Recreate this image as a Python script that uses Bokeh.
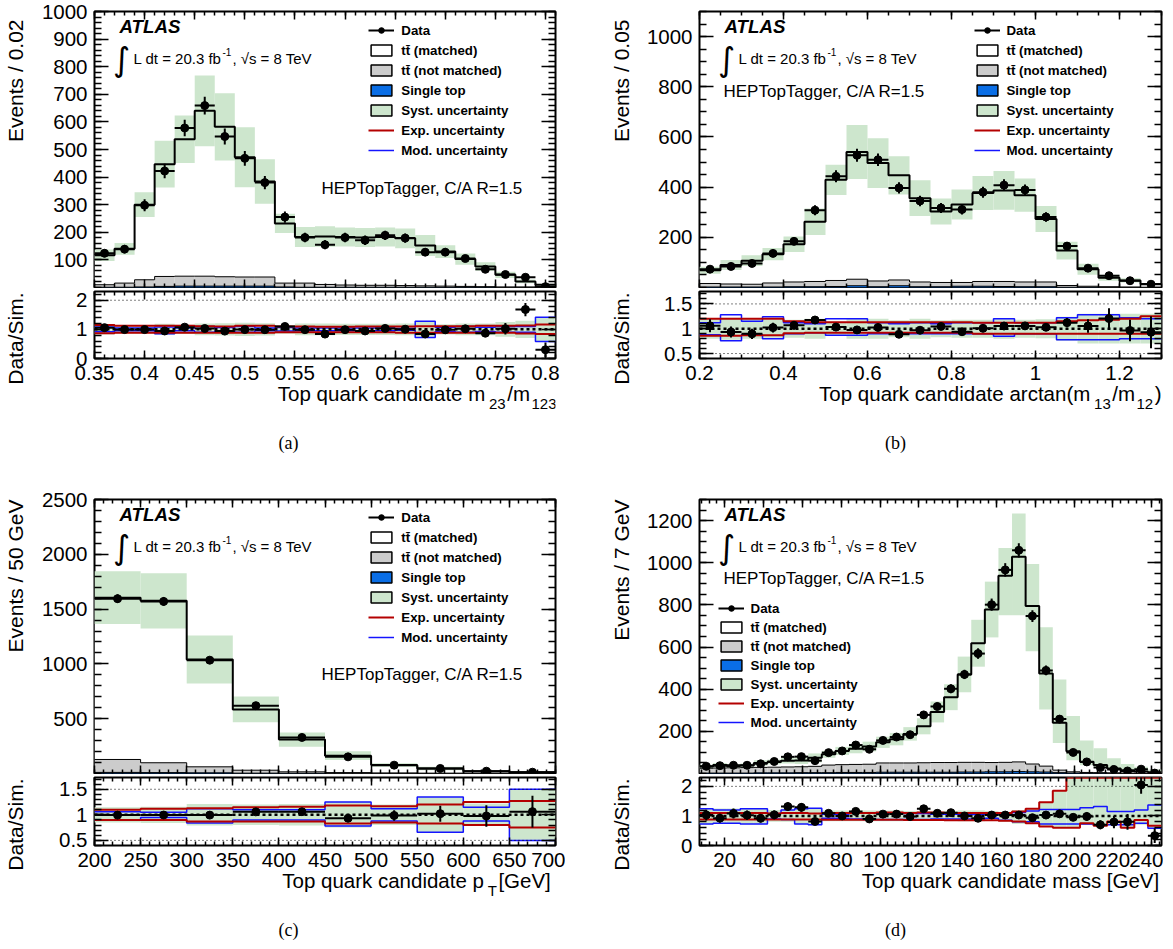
import numpy as np
from bokeh.plotting import figure
from bokeh.models import (Range1d, LinearAxis, FixedTicker, CustomJSTickFormatter,
                          CustomLabelingPolicy, Label, Legend, LegendItem, Span, Grid)
from bokeh.layouts import column, row
from bokeh.embed import file_html
from bokeh.resources import INLINE

# ======================= DATA =======================
# (a) Top quark candidate m23/m123, bins of 0.02 from 0.35
a_bin_start, a_bin_width = 0.35, 0.02
a_data = [124, 139, 298, 422, 578, 659, 547, 468, 380, 255, 181, 155, 181, 171, 189, 179, 128, 128, 105, 66, 47, 37, 3]
a_data_err = [14, 15, 22, 26, 30, 32, 29, 27, 24, 20, 17, 16, 17, 17, 17, 17, 14, 14, 13, 10, 9, 5, 2.5]
a_mc_total = [117, 140, 300, 447, 537, 640, 582, 472, 384, 232, 183, 185, 183, 181, 183, 178, 152, 130, 103, 76, 46, 22, 10]
a_ttbar_notmatched = [9, 15, 26, 36, 36, 36, 34, 33, 33, 14, 15, 10, 8, 7, 7, 6, 5, 4.5, 3.5, 2.5, 1.7, 1.7, 0.8]
a_single_top = [1, 1, 2, 4, 5, 5, 5, 5, 5, 2, 1, 1, 1, 1, 1, 1, 1, 0.5, 0.5, 0.5, 0.3, 0.3, 0.2]
a_syst = [0.18, 0.15, 0.15, 0.19, 0.16, 0.2, 0.21, 0.23, 0.21, 0.15, 0.2, 0.2, 0.19, 0.19, 0.19, 0.2, 0.25, 0.18, 0.2, 0.2, 0.25, 0.3, 0.4]
a_exp_up = [0.15, 0.12, 0.12, 0.12, 0.12, 0.11, 0.1, 0.12, 0.12, 0.1, 0.1, 0.09, 0.09, 0.1, 0.1, 0.1, 0.11, 0.11, 0.11, 0.12, 0.12, 0.13, 0.17]
a_exp_dn = [0.13, 0.12, 0.12, 0.12, 0.12, 0.12, 0.12, 0.12, 0.12, 0.1, 0.1, 0.1, 0.1, 0.1, 0.1, 0.12, 0.12, 0.12, 0.12, 0.12, 0.12, 0.14, 0.16]
a_mod_up = [0.08, 0.05, 0.05, 0.08, 0.05, 0.1, 0.06, 0.1, 0.05, 0.06, 0.05, 0.05, 0.05, 0.05, 0.05, 0.03, 0.28, 0.07, 0.1, 0.07, 0.1, 0.1, 0.42]
a_mod_dn = [0.08, 0.05, 0.05, 0.15, 0.05, 0.1, 0.06, 0.1, 0.05, 0.06, 0.05, 0.05, 0.05, 0.05, 0.05, 0.03, 0.28, 0.07, 0.1, 0.07, 0.1, 0.1, 0.42]

# (b) arctan(m13/m12), bins of 0.05 from 0.2
b_bin_start, b_bin_width = 0.2, 0.05
b_data = [73, 84, 96, 136, 184, 308, 443, 527, 509, 397, 345, 317, 311, 380, 408, 389, 281, 165, 77, 47, 27, 13]
b_data_err = [9, 10, 11, 13, 15, 20, 24, 26, 25, 22, 21, 20, 20, 22, 23, 22, 19, 14, 10, 8, 6, 4.5]
b_mc_total = [69, 90, 107, 133, 172, 262, 429, 540, 496, 447, 356, 303, 331, 377, 387, 368, 273, 147, 73, 39, 28, 14]
b_ttbar_notmatched = [14, 12, 11, 16, 19, 21, 24, 26, 23, 23, 19, 17, 15, 19, 20, 19, 19, 7, 4.5, 2.7, 1.8, 0.9]
b_single_top = [2, 2, 2, 2, 3, 3, 4, 7, 3, 7, 3, 3, 5, 5, 4, 3, 3, 1, 0.5, 0.3, 0.2, 0.1]
b_syst = [0.2, 0.22, 0.2, 0.18, 0.18, 0.2, 0.14, 0.2, 0.2, 0.17, 0.2, 0.17, 0.18, 0.18, 0.2, 0.18, 0.19, 0.24, 0.3, 0.3, 0.3, 0.3]
b_exp_up = [0.2, 0.2, 0.2, 0.2, 0.15, 0.13, 0.13, 0.13, 0.13, 0.13, 0.13, 0.13, 0.13, 0.12, 0.12, 0.12, 0.12, 0.15, 0.17, 0.18, 0.2, 0.25]
b_exp_dn = [0.14, 0.14, 0.13, 0.13, 0.09, 0.08, 0.08, 0.08, 0.08, 0.08, 0.08, 0.08, 0.08, 0.1, 0.1, 0.1, 0.1, 0.1, 0.1, 0.1, 0.1, 0.1]
b_mod_up = [0.12, 0.28, 0.15, 0.24, 0.12, 0.1, 0.2, 0.2, 0.12, 0.1, 0.12, 0.1, 0.12, 0.12, 0.2, 0.12, 0.12, 0.22, 0.28, 0.28, 0.22, 0.2]
b_mod_dn = [0.12, 0.24, 0.12, 0.2, 0.1, 0.08, 0.13, 0.13, 0.1, 0.1, 0.1, 0.1, 0.1, 0.1, 0.15, 0.1, 0.1, 0.22, 0.22, 0.22, 0.2, 0.2]

# (c) pT, bins of 50 GeV from 200
c_bin_start, c_bin_width = 200, 50
c_data = [1595, 1570, 1034, 619, 329, 152, 76, 46, 21, 12]
c_data_err = [40, 40, 32, 25, 18, 12, 8, 7, 4.5, 3.5]
c_mc_total = [1604, 1576, 1040, 585, 310, 163, 77, 45, 21.5, 11.3]
c_ttbar_notmatched = [118, 90, 55, 27, 13, 7, 4.5, 2.7, 1.8, 0.9]
c_single_top = [10, 8, 6, 3, 2, 1, 0.5, 0.3, 0.2, 0.1]
c_syst = [0.15, 0.16, 0.21, 0.2, 0.21, 0.25, 0.2, 0.35, 0.22, 0.5]
c_exp_up = [0.1, 0.12, 0.13, 0.15, 0.16, 0.18, 0.17, 0.2, 0.25, 0.27]
c_exp_dn = [0.1, 0.1, 0.13, 0.13, 0.13, 0.17, 0.15, 0.17, 0.2, 0.25]
c_mod_up = [0.06, 0.05, 0.12, 0.1, 0.1, 0.25, 0.12, 0.35, 0.15, 0.5]
c_mod_dn = [0.1, 0.05, 0.16, 0.1, 0.1, 0.22, 0.12, 0.34, 0.12, 0.5]

# (d) mass, bins of 7 GeV from 7
d_bin_start, d_bin_width = 7, 7
d_data = [34, 37, 39, 39, 46, 57, 79, 80, 61, 99, 107, 135, 115, 157, 173, 184, 278, 318, 402, 470, 569, 801, 966, 1059, 747, 489, 258, 100, 55, 28, 19, 12, 20.5, 2]
d_data_err = [6, 6, 6, 6, 7, 8, 9, 9, 8, 10, 11, 12, 11, 13, 14, 14, 17, 18, 21, 22, 25, 29, 32, 34, 28, 23, 16, 10, 8, 6, 5, 4, 3, 1.5]
d_mc_total = [33, 40, 36, 38, 50, 55, 60, 62, 75, 91, 107, 117, 128, 148, 163, 188, 224, 292, 362, 470, 618, 778, 938, 1028, 795, 475, 241, 105, 56, 40, 24, 15, 10, 6]
d_ttbar_notmatched = [23, 24, 25, 26, 26, 27, 28, 28, 30, 36, 37, 38, 39, 44, 44, 44, 45, 46, 46, 46, 46, 44, 45, 46, 37, 28, 12, 6, 4, 3, 2.5, 1.5, 0.7, 0.8]
d_single_top = [2, 2, 2, 2, 3, 3, 3, 4, 4, 4, 5, 5, 5, 6, 6, 6, 6, 6, 6, 7, 7, 8, 8, 9, 8, 7, 4, 2, 1, 1, 0.5, 0.5, 0.3, 0.2]
d_syst_up = [0.25, 0.25, 0.25, 0.26, 0.26, 0.2, 0.24, 0.25, 0.27, 0.18, 0.18, 0.18, 0.18, 0.18, 0.18, 0.17, 0.17, 0.17, 0.17, 0.18, 0.18, 0.17, 0.14, 0.2, 0.25, 0.46, 0.85, 1.6, 1.8, 2.0, 2.0, 2.0, 2.2, 2.2]
d_syst_dn = [0.28, 0.25, 0.25, 0.27, 0.27, 0.2, 0.2, 0.27, 0.3, 0.18, 0.18, 0.18, 0.18, 0.18, 0.18, 0.17, 0.17, 0.17, 0.17, 0.18, 0.18, 0.17, 0.2, 0.27, 0.27, 0.36, 0.4, 0.4, 0.3, 0.33, 0.3, 0.4, 0.3, 0.45]
d_exp_up = [0.1, 0.1, 0.1, 0.1, 0.1, 0.08, 0.1, 0.1, 0.08, 0.1, 0.1, 0.1, 0.1, 0.12, 0.12, 0.1, 0.12, 0.12, 0.1, 0.1, 0.1, 0.1, 0.1, 0.15, 0.24, 0.46, 0.85, 1.6, 1.8, 2.0, 2.0, 2.0, 2.2, 2.2]
d_exp_dn = [0.12, 0.12, 0.12, 0.12, 0.12, 0.12, 0.12, 0.12, 0.12, 0.13, 0.13, 0.13, 0.13, 0.13, 0.13, 0.14, 0.14, 0.14, 0.15, 0.15, 0.15, 0.15, 0.16, 0.19, 0.25, 0.36, 0.4, 0.4, 0.25, 0.33, 0.19, 0.4, 0.14, 0.33]
d_mod_up = [0.24, 0.2, 0.2, 0.24, 0.24, 0.08, 0.2, 0.24, 0.26, 0.06, 0.06, 0.1, 0.1, 0.1, 0.1, 0.08, 0.08, 0.06, 0.06, 0.06, 0.05, 0.06, 0.08, 0.12, 0.17, 0.22, 0.22, 0.22, 0.28, 0.32, 0.15, 0.15, 0.2, 0.37]
d_mod_dn = [0.27, 0.25, 0.25, 0.27, 0.27, 0.1, 0.12, 0.27, 0.3, 0.08, 0.08, 0.1, 0.12, 0.12, 0.12, 0.12, 0.12, 0.1, 0.1, 0.1, 0.1, 0.08, 0.15, 0.2, 0.2, 0.27, 0.27, 0.27, 0.27, 0.3, 0.3, 0.3, 0.25, 0.42]

legend_labels = ["Data", "t\u0074\u0304 (matched)", "t\u0074\u0304 (not matched)", "Single top",
                 "Syst. uncertainty", "Exp. uncertainty", "Mod. uncertainty"]

# ======================= STYLE =======================
FONT = "Liberation Sans"
GREEN = "#cde6cd"
GRAY = "#cccccc"
STBLUE = "#0a6ee6"
RED = "#b40000"
MODBLUE = "#1414ff"
ALPHA_FIX = 8.0   # measured offset of alphabetic-baseline labels
MID_FIX = 3.0     # measured offset of middle-baseline labels
OVERLAP = 22      # text strip slides up under the ratio pad's tick labels

CW = {' ': 278, '(': 333, ')': 333, ',': 278, '-': 333, '.': 278, '/': 278, '=': 584, '[': 278, ']': 278,
      'A': 667, 'C': 722, 'E': 667, 'G': 778, 'H': 722, 'L': 556, 'P': 667, 'R': 722, 'S': 667,
      'T': 611, 'V': 667, 'a': 556, 'b': 556, 'c': 500, 'd': 556, 'e': 556, 'f': 278, 'g': 556,
      'h': 556, 'i': 222, 'k': 500, 'l': 222, 'm': 833, 'n': 556, 'o': 556, 'p': 556, 'q': 556,
      'r': 333, 's': 500, 't': 278, 'u': 556, 'v': 500, 'y': 500, '\u221a': 549}
for _c in "0123456789":
    CW[_c] = 556

NO_LABELS = CustomLabelingPolicy(code="""
try { for (let i = 0; i < indices.size; i++) { indices.unset(i) } } catch (e) {}
return indices;
""")


def tw(s, size):
    return sum(CW.get(c, 556) for c in s) * size / 1000.0


def lab(fig, x, y, text, size, align="left", baseline="alphabetic", style="normal",
        font=FONT, angle=0.0, fix=True):
    if fix:
        if angle == 0.0:
            y += ALPHA_FIX if baseline == "alphabetic" else MID_FIX
        else:
            x -= MID_FIX
    fig.add_layout(Label(x=x, y=y, x_units="screen", y_units="screen", text=text,
                         text_font=font, text_font_size=f"{size}px", text_font_style=style,
                         text_align=align, text_baseline=baseline, text_color="black",
                         angle=angle))


def pieces(fig, parts, y, x_left=None, x_right=None, gap=1.5):
    widths = [tw(t, s) for t, s, _ in parts]
    total = sum(widths) + gap * (len(parts) - 1)
    x = x_left if x_left is not None else x_right - total
    for (t, s, dy), w in zip(parts, widths):
        lab(fig, x, y + dy, t, s)
        x += w + gap


def add_axis(fig, side, majors, minors, tin, tmin, show):
    ax = LinearAxis(ticker=FixedTicker(ticks=[float(v) for v in majors],
                                       minor_ticks=[float(v) for v in minors]))
    ax.major_tick_in = tin
    ax.major_tick_out = 0
    ax.minor_tick_in = tmin
    ax.minor_tick_out = 0
    ax.major_tick_line_width = 1.5
    ax.minor_tick_line_width = 1.5
    ax.major_tick_line_color = "black"
    ax.minor_tick_line_color = "black"
    ax.axis_line_color = None
    if show:
        ax.formatter = CustomJSTickFormatter(code="return String(Math.round(tick*1e6)/1e6);")
        ax.major_label_text_font = FONT
        ax.major_label_text_font_size = "20.5px"
        ax.major_label_text_color = "black"
        ax.major_label_standoff = 7
    else:
        ax.major_label_text_font_size = "0px"
        ax.major_label_standoff = 0
        ax.major_label_policy = NO_LABELS
    fig.add_layout(ax, side)


def hide_grids(f):
    for r in list(f.center):
        if isinstance(r, Grid):
            r.visible = False


def blank_fig(w, h, bl=0, br=0, margin=None):
    kw = {} if margin is None else dict(margin=margin)
    f = figure(width=w, height=h, x_range=Range1d(0, 1), y_range=Range1d(0, 1),
               toolbar_location=None, output_backend="svg",
               x_axis_location=None, y_axis_location=None,
               min_border_left=bl, min_border_right=br, min_border_top=0, min_border_bottom=0,
               outline_line_color=None, background_fill_alpha=0, border_fill_alpha=0, **kw)
    hide_grids(f)
    return f


def step_y(vals):
    return np.append(vals, vals[-1])


def build(P, G):
    n = len(P["data"])
    edges = np.round(P["x0"] + P["bw"] * np.arange(n + 1), 6)
    lo, hi = edges[:-1], edges[1:]
    ctr = 0.5 * (lo + hi)
    data = np.asarray(P["data"], float)
    err = np.asarray(P["err"], float)
    mc = np.asarray(P["mc"], float)
    single = np.asarray(P["single"], float)
    gtop = single + np.asarray(P["notmatched"], float)
    sup = np.asarray(P["syst_up"], float)
    sdn = np.asarray(P["syst_dn"], float)
    rlo, rhi = P["rlim"]

    xr = Range1d(*P["xlim"])
    common = dict(toolbar_location=None, output_backend="svg", x_range=xr,
                  x_axis_location=None, y_axis_location=None,
                  background_fill_color="white", border_fill_color="white",
                  outline_line_color="black", outline_line_width=2,
                  min_border_left=G["bl"], min_border_right=G["br"])
    W = G["bl"] + 462 + G["br"]

    # ---------- main pad ----------
    Hm, mt = G["Hm"], G["mt"]
    main = figure(width=W, height=mt + Hm + 1, y_range=Range1d(0, P["ymax"]),
                  min_border_top=mt, min_border_bottom=1, **common)
    add_axis(main, "left", P["ymaj"], P["ymin"], 14, 7, True)
    add_axis(main, "right", P["ymaj"], P["ymin"], 14, 7, False)
    add_axis(main, "below", P["xmaj"], P["xmin"], 8, 4, False)
    add_axis(main, "above", P["xmaj"], P["xmin"], 8, 4, False)

    main.quad(left=lo, right=hi, bottom=gtop, top=mc, fill_color="white", line_color=None)
    main.quad(left=lo, right=hi, bottom=single, top=gtop, fill_color=GRAY, line_color=None)
    main.quad(left=lo, right=hi, bottom=0, top=single, fill_color=STBLUE, line_color=None)
    main.quad(left=lo, right=hi, bottom=mc * (1 - sdn), top=mc * (1 + sup),
              fill_color=GREEN, line_color=None)
    main.step(x=edges, y=step_y(single), mode="after", line_color="black", line_width=1)
    main.step(x=edges, y=step_y(gtop), mode="after", line_color="black", line_width=1)
    main.step(x=edges, y=step_y(mc), mode="after", line_color="black", line_width=2)
    main.segment(x0=lo, x1=hi, y0=data, y1=data, line_color="black", line_width=2)
    main.segment(x0=ctr, x1=ctr, y0=data - err, y1=data + err, line_color="black", line_width=2)
    main.scatter(x=ctr, y=data, size=8, color="black")

    # legend (proxy renderers that draw nothing in the frame)
    nan = [float("nan")]
    r_seg = main.segment(x0=nan, y0=nan, x1=nan, y1=nan, line_color="black", line_width=2)
    r_pt = main.scatter(x=nan, y=nan, size=8, color="black")
    qkw = dict(left=nan, right=nan, top=nan, bottom=nan, line_color="black", line_width=1.5)
    r_m = main.quad(fill_color="white", **qkw)
    r_nm = main.quad(fill_color=GRAY, **qkw)
    r_st = main.quad(fill_color=STBLUE, **qkw)
    r_sy = main.quad(fill_color=GREEN, **qkw)
    r_ex = main.line(x=nan, y=nan, line_color=RED, line_width=2)
    r_mo = main.line(x=nan, y=nan, line_color=MODBLUE, line_width=1.5)
    rends = [[r_seg, r_pt], [r_m], [r_nm], [r_st], [r_sy], [r_ex], [r_mo]]
    leg = Legend(items=[LegendItem(label=l, renderers=r) for l, r in zip(legend_labels, rends)],
                 location=(G["legx"], G["legy"]), orientation="vertical",
                 glyph_width=26, glyph_height=14, label_height=15, label_standoff=7,
                 spacing=G["legsp"], padding=0, margin=0, border_line_color=None,
                 background_fill_alpha=0, label_text_font=FONT, label_text_font_style="bold",
                 label_text_font_size="13.3px", label_text_color="black")
    main.add_layout(leg)

    lab(main, 25, Hm - 22.7, "ATLAS", 18.7, style="bold italic")
    lab(main, 27, Hm - 47.5, "\u222b", 33, align="center", baseline="middle",
        font="DejaVu Sans", fix=False)
    pieces(main, [("L dt = 20.3 fb", 15, 0), ("-1", 10, 6), (", \u221as = 8 TeV", 15, 0)],
           Hm - 54.5, x_left=39, gap=1)
    lab(main, G["hepx"], Hm - G["hepy"], "HEPTopTagger, C/A R=1.5", 17)

    # ---------- ratio pad ----------
    Hr = G["Hr"]
    ratio = figure(width=W, height=3 + Hr + 30, y_range=Range1d(rlo, rhi),
                   min_border_top=3, min_border_bottom=30, **common)
    add_axis(ratio, "left", P["rmaj"], P["rmin"], 14, 7, True)
    add_axis(ratio, "right", P["rmaj"], P["rmin"], 14, 7, False)
    add_axis(ratio, "below", P["xmaj"], P["xmin"], 8, 4, True)
    add_axis(ratio, "above", P["xmaj"], P["xmin"], 8, 4, False)

    top_clip = rhi - 0.012
    ratio.quad(left=lo, right=hi, bottom=1 - sdn, top=np.minimum(1 + sup, rhi),
               fill_color=GREEN, line_color=None)
    for v in P["rdots"]:
        ratio.add_layout(Span(location=v, dimension="width", line_color="black",
                              line_width=1, line_dash="1 3"))
    ratio.step(x=edges, y=step_y(np.minimum(1 + np.asarray(P["mod_up"]), top_clip)), mode="after",
               line_color=MODBLUE, line_width=1.5)
    ratio.step(x=edges, y=step_y(1 - np.asarray(P["mod_dn"])), mode="after",
               line_color=MODBLUE, line_width=1.5)
    ratio.step(x=edges, y=step_y(np.minimum(1 + np.asarray(P["exp_up"]), top_clip)), mode="after",
               line_color=RED, line_width=2)
    ratio.step(x=edges, y=step_y(1 - np.asarray(P["exp_dn"])), mode="after",
               line_color=RED, line_width=2)
    ratio.add_layout(Span(location=1, dimension="width", line_color="black",
                          line_width=2.5, line_dash="3 3"))
    rr = data / mc
    re = err / mc
    ratio.segment(x0=lo, x1=hi, y0=rr, y1=rr, line_color="black", line_width=2)
    ratio.segment(x0=ctr, x1=ctr, y0=rr - re, y1=rr + re, line_color="black", line_width=2)
    ratio.scatter(x=ctr, y=rr, size=8, color="black")

    for f in (main, ratio):
        hide_grids(f)

    # ---------- transparent text strip under the ratio pad (x title + caption) ----------
    Ht = G["Ht"]
    txt = blank_fig(W, Ht, G["bl"], G["br"], margin=(-OVERLAP, 0, 0, 0))
    top_off = 30 - OVERLAP          # strip top, below the ratio frame bottom
    pieces(txt, P["xtitle"], Ht - (43 - top_off), x_right=462)
    lab(txt, G["capx"], Ht - (87 - top_off), P["caption"], 18, align="center",
        baseline="middle", font="Liberation Serif")

    # ---------- y-title strip on the left ----------
    Htot = (mt + Hm + 1) + (3 + Hr + 30) + Ht - OVERLAP
    yt = blank_fig(G["ytw"], Htot)
    lab(yt, G["ytx"], Htot - (mt + G["ytoff"]), P["ytitle"], 21, align="right",
        baseline="middle", angle=np.pi / 2)
    lab(yt, G["ytx"], Htot - (mt + Hm + 1 + 3 + 1), "Data/Sim.", 21, align="right",
        baseline="middle", angle=np.pi / 2)

    return row(yt, column(main, ratio, txt, spacing=0), spacing=0)


def rng(a, b, s):
    return list(np.round(np.arange(a, b + s / 2, s), 6))


SUB = -10
panels = [
    dict(data=a_data, err=a_data_err, mc=a_mc_total, notmatched=a_ttbar_notmatched, single=a_single_top,
         syst_up=a_syst, syst_dn=a_syst, exp_up=a_exp_up, exp_dn=a_exp_dn, mod_up=a_mod_up, mod_dn=a_mod_dn,
         x0=a_bin_start, bw=a_bin_width, xlim=(0.35, 0.81), ymax=1000, rlim=(0, 2.3),
         xmaj=rng(0.35, 0.8, 0.05), xmin=rng(0.35, 0.81, 0.01),
         ymaj=rng(100, 1000, 100), ymin=rng(0, 1000, 20),
         rmaj=[0, 1, 2], rmin=rng(0, 2.2, 0.2), rdots=[2],
         ytitle="Events / 0.02", caption="(a)",
         xtitle=[("Top quark candidate m", 20.5, 0), ("23", 15, SUB), ("/m", 20.5, 0), ("123", 15, SUB)]),
    dict(data=b_data, err=b_data_err, mc=b_mc_total, notmatched=b_ttbar_notmatched, single=b_single_top,
         syst_up=b_syst, syst_dn=b_syst, exp_up=b_exp_up, exp_dn=b_exp_dn, mod_up=b_mod_up, mod_dn=b_mod_dn,
         x0=b_bin_start, bw=b_bin_width, xlim=(0.2, 1.3), ymax=1100, rlim=(0.4, 1.75),
         xmaj=rng(0.2, 1.2, 0.2), xmin=rng(0.2, 1.3, 0.05),
         ymaj=rng(200, 1000, 200), ymin=rng(0, 1100, 50),
         rmaj=[0.5, 1, 1.5], rmin=rng(0.4, 1.7, 0.1), rdots=[0.5, 1.5],
         ytitle="Events / 0.05", caption="(b)",
         xtitle=[("Top quark candidate arctan(m", 20.5, 0), ("13", 15, SUB), ("/m", 20.5, 0),
                 ("12", 15, SUB), (")", 20.5, 0)]),
    dict(data=c_data, err=c_data_err, mc=c_mc_total, notmatched=c_ttbar_notmatched, single=c_single_top,
         syst_up=c_syst, syst_dn=c_syst, exp_up=c_exp_up, exp_dn=c_exp_dn, mod_up=c_mod_up, mod_dn=c_mod_dn,
         x0=c_bin_start, bw=c_bin_width, xlim=(200, 700), ymax=2500, rlim=(0.4, 1.73),
         xmaj=rng(200, 700, 50), xmin=rng(200, 700, 10),
         ymaj=rng(500, 2500, 500), ymin=rng(0, 2500, 100),
         rmaj=[0.5, 1, 1.5], rmin=rng(0.4, 1.7, 0.1), rdots=[0.5, 1.5],
         ytitle="Events / 50 GeV", caption="(c)",
         xtitle=[("Top quark candidate p", 20.5, 0), ("T", 15, SUB), (" [GeV]", 20.5, 0)]),
    dict(data=d_data, err=d_data_err, mc=d_mc_total, notmatched=d_ttbar_notmatched, single=d_single_top,
         syst_up=d_syst_up, syst_dn=d_syst_dn, exp_up=d_exp_up, exp_dn=d_exp_dn, mod_up=d_mod_up,
         mod_dn=d_mod_dn, x0=d_bin_start, bw=d_bin_width, xlim=(7, 245), ymax=1300, rlim=(0, 2.3),
         xmaj=rng(20, 240, 20), xmin=rng(8, 244, 4),
         ymaj=rng(200, 1200, 200), ymin=rng(0, 1300, 50),
         rmaj=[0, 1, 2], rmin=rng(0, 2.2, 0.2), rdots=[2],
         ytitle="Events / 7 GeV", caption="(d)",
         xtitle=[("Top quark candidate mass [GeV]", 20.5, 0)]),
]

geoms = [
    dict(ytw=38, ytx=18, bl=55, br=10, mt=11, Hm=276, Hr=67, Ht=121, legx=274.3, legy=129.5,
         legsp=5, hepx=227, hepy=185, ytoff=8, capx=194),
    dict(ytw=70, ytx=58.5, bl=64, br=2, mt=11, Hm=276, Hr=67, Ht=121, legx=274.5, legy=129.5,
         legsp=5, hepx=24, hepy=88, ytoff=8, capx=196),
    dict(ytw=38, ytx=18, bl=55, br=10, mt=12, Hm=274, Hr=68, Ht=92, legx=274.3, legy=128.2,
         legsp=5, hepx=227, hepy=183, ytoff=0, capx=194),
    dict(ytw=70, ytx=58.5, bl=64, br=2, mt=12, Hm=274, Hr=68, Ht=92, legx=18.6, legy=43.5,
         legsp=4, hepx=24, hepy=87, ytoff=0, capx=196),
]

cols = [build(P, G) for P, G in zip(panels, geoms)]
layout = column(row(cols[0], cols[1], spacing=0), row(cols[2], cols[3], spacing=0), spacing=0)

open("out.html", "w").write(file_html(layout, INLINE))
